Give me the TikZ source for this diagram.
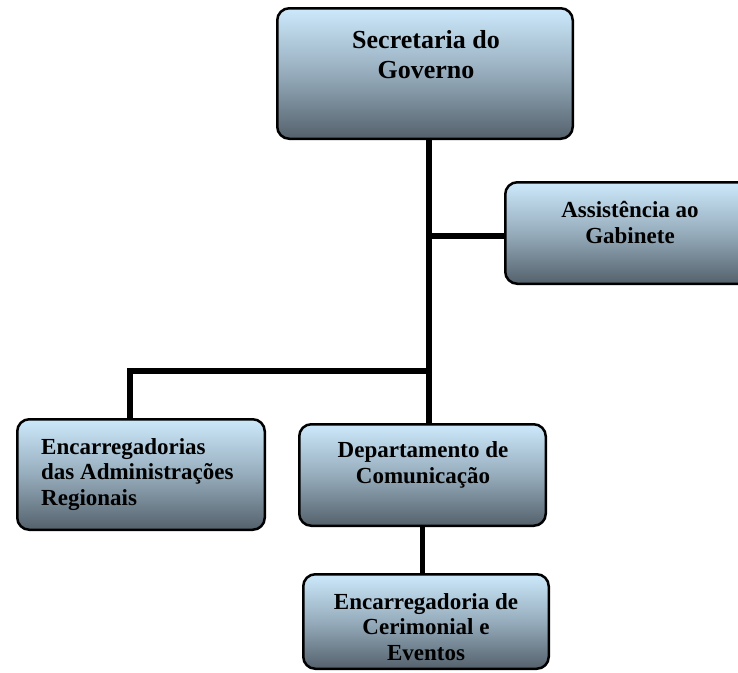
\documentclass[tikz,border=0pt]{standalone}
\usepackage{fontspec}
\setmainfont{Liberation Serif}
\definecolor{boxtop}{RGB}{204,233,251}
\definecolor{boxmid}{RGB}{150,172,188}
\definecolor{boxbot}{RGB}{84,97,108}
\tikzset{
  orgbox/.style={draw=black, line width=2.5pt, rounded corners=12pt,
    top color=boxtop, bottom color=boxbot, middle color=boxmid,
    inner sep=0pt, outer sep=0pt},
  lbl/.style={font=\fontsize{23}{25.5}\selectfont\bfseries, align=center,
    inner sep=0pt},
  toplbl/.style={lbl, font=\fontsize{26}{30}\selectfont\bfseries},
  conn/.style={draw=black, line width=5.5pt, line join=miter}
}
\begin{document}
\begin{tikzpicture}[x=1pt,y=-1pt]
\useasboundingbox (0,0) rectangle (738,672);
\clip (0,0) rectangle (738,672);

% boxes
\node[orgbox, minimum width=295.5pt, minimum height=130.5pt] (sec) at (425,73.5) {};
\node[orgbox, minimum width=249.5pt, minimum height=101.5pt] (asst) at (630,233) {};
\node[orgbox, minimum width=247.5pt, minimum height=110.5pt] (enc) at (141,474.5) {};
\node[orgbox, minimum width=246.5pt, minimum height=101.5pt] (dep) at (422.5,475) {};
\node[orgbox, minimum width=245.5pt, minimum height=94.5pt] (cer) at (426,621.5) {};

% labels (anchored on the baseline of their last line)
\node[toplbl, anchor=base] (secT) at (426,78) {Secretaria do\\Governo};
\node[lbl, anchor=base] (asstT) at (630,243) {Assistência ao\\Gabinete};
\node[lbl, align=left, anchor=base west] (encT) at (41,505) {Encarregadorias\\das Administrações\\Regionais};
\node[lbl, anchor=base] (depT) at (423,483) {Departamento de\\Comunicação};
\node[lbl, anchor=base] (cerT) at (426,660) {Encarregadoria de\\Cerimonial e\\Eventos};

% connectors
\coordinate (trunkx) at (429,0);
\coordinate (asstjoin) at (429,236);
\coordinate (encjoin) at (432,371);
\coordinate (encx) at (130,0);
\draw[conn] (sec.south -| trunkx) -- (dep.north -| trunkx);
\draw[conn] (asstjoin) -- (asstjoin -| asst.west);
\draw[conn] (encjoin) -| (enc.north -| encx);
\draw[conn] (dep.south) -- (dep.south |- cer.north);
\end{tikzpicture}
\end{document}
